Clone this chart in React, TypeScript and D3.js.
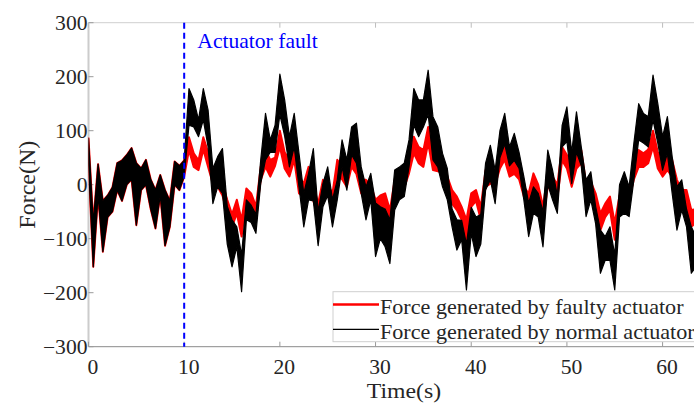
import React from "react";
import * as d3 from "d3";

// the forces are very noisy, so each one is read as a band (low / high edge)
const bandStep = 0.5;
const faultTime = 10;

const xTicks = [0, 10, 20, 30, 40, 50, 60];
const yTicks = [-300, -200, -100, 0, 100, 200, 300];
const legendLabels = [
  "Force generated by faulty actuator",
  "Force generated by normal actuator",
];

// normal actuator (N), band edges every 0.5 s from t = 0, one row = 4 s
const normalLow = [
  40, -152, -20, -124, -60, -50, -10, -30,
  0, 10, -75, -10, 0, -45, -81, -20,
  -113, -78, 0, -10, 15, 110, 107, 89,
  120, 70, -35, -4, -16, -110, -152, -115,
  -198, -65, -70, -90, 2, 46, 60, 60,
  130, 90, 33, 70, -4, -78, -28, -30,
  -113, -41, -20, -78, -28, 33, -10, 55,
  40, -16, -65, -28, -133, -100, -115, -146,
  -47, -28, -22, 33, 110, 89, 107, 130,
  46, 33, -4, -28, -78, -121, -102, -195,
  -90, -133, -110, -10, 9, -35, 50, 75,
  35, 45, 30, -28, -96, -53, -60, -115,
  0, -28, -53, 70, 80, 2, 60, 35,
  -59, -28, -72, -164, -140, -140, -195, -60,
  -53, -59, 9, 83, 77, 70, 120, 77,
  27, 58, -16, -84, -47, -78, -164, -152,
];
const normalHigh = [
  86, -70, 38, -30, -20, -5, 40, 45,
  55, 68, 40, 30, 46, 10, -10, 18,
  -10, -30, 43, 35, 45, 178, 157, 120,
  178, 138, 30, 52, 67, -40, -65, -78,
  -130, -28, -38, -55, 46, 132, 83, 110,
  205, 157, 89, 132, 58, -16, 21, 67,
  -50, 2, 33, -28, 9, 83, 46, 107,
  114, 33, -4, 21, -34, -41, -45, -65,
  27, 33, 40, 83, 178, 157, 157, 212,
  126, 107, 58, 30, -45, -65, -66, -110,
  -42, -60, -55, 40, 73, 27, 100, 132,
  70, 95, 60, 15, -34, -4, -16, -50,
  64, 27, -20, 110, 144, 60, 135, 70,
  9, 24, -40, -84, -96, -78, -130, 0,
  24, -4, 77, 150, 132, 126, 203, 150,
  89, 126, 52, -4, 9, -45, -78, -96,
];

// faulty actuator (N), band edges every 0.5 s from the fault (t = 10 s)
const faultyLowAfter = [
  15, 64, 33, 27, 65, 33, 2, -4,
  -20, -53, -78, -53, -96, -28, -35, -59,
  9, 33, 15, 35, 70, 30, 15, 46,
  -16, -22, 15, -30, -59, -16, -20, -40,
  21, 10, -4, 33, 20, -16, -10, -20,
  -59, -45, -40, -71, -16, -16, -5, 21,
  58, 40, 33, 77, 27, 25, 21, -16,
  -35, -47, -65, -109, -41, -30, -65, -4,
  2, 0, 30, 46, 15, 20, 10, -22,
  -41, -4, -25, -65, -4, -10, -25, 45,
  30, -4, 30, 40, -16, -20, -35, -84,
  -60, -47, -102, -50, -22, -28, 10, 33,
  33, 40, 70, 30, 15, 27, 15, -20,
  -47, -40, -78, -70,
];
const faultyHighAfter = [
  45, 88, 58, 45, 88, 60, 25, 9,
  2, -28, -55, -28, -65, -7, -16, -40,
  33, 64, 46, 50, 100, 60, 46, 70,
  15, 2, 33, 0, -35, 9, 0, -16,
  46, 35, 21, 58, 45, 9, 9, 0,
  -28, -20, -16, -47, 9, 15, 20, 46,
  89, 70, 64, 107, 64, 55, 52, 15,
  -10, -22, -41, -65, -16, -10, -41, 27,
  27, 25, 55, 70, 40, 46, 35, -4,
  -16, 21, 0, -40, 21, 15, 0, 70,
  55, 27, 55, 64, 2, 5, -16, -53,
  -35, -22, -71, -20, -4, -10, 35, 64,
  58, 65, 100, 60, 46, 52, 46, 9,
  -10, -10, -47, -45,
];

// before the fault both actuators deliver the same force
const nBefore = faultTime / bandStep;
const faultyLow = normalLow.slice(0, nBefore).concat(faultyLowAfter);
const faultyHigh = normalHigh.slice(0, nBefore).concat(faultyHighAfter);

const width = 694;
const height = 405;
const left = 88.5;
const top = 22.7;
const bottom = 346.7;
const font = "'Liberation Serif', 'Times New Roman', serif";

// the picture is a little wider than tall, so text is stretched too
const T = ({ x, y, anchor = "start", size = 20, fill = "#262626", children }) => (
  <text
    transform={`translate(${x},${y}) scale(1.08,1)`}
    textAnchor={anchor}
    fontSize={size}
    fontFamily={font}
    fill={fill}
  >
    {children}
  </text>
);

const Band = ({ low, high, x, y, color, edge }) => {
  const area = d3
    .area<number>()
    .x((d, i) => x(i * bandStep))
    .y0(d => y(d))
    .y1((d, i) => y(high[i]));
  return <path d={area(low)} fill={color} stroke={color} strokeWidth={edge} strokeLinejoin="round" />;
};

const App = () => {
  const x = d3.scaleLinear().domain([0, 66]).range([left, 720]);
  const y = d3.scaleLinear().domain([-300, 300]).range([bottom, top]);

  return (
    <svg
      width={width}
      height={height}
      style={{ position: "absolute", left: 0, top: 0, background: "#fff" }}
    >
      <defs>
        <clipPath id="plot">
          <rect x={left} y={top} width={720 - left} height={bottom - top} />
        </clipPath>
      </defs>

      {/* frame */}
      <line x1={left} x2={width} y1={top} y2={top} stroke="#cfcfcf" strokeWidth={1} />
      <line x1={left} x2={width} y1={bottom} y2={bottom} stroke="#8a8a8a" strokeWidth={1} />
      <line x1={left} x2={left} y1={top} y2={bottom} stroke="#cccccc" strokeWidth={2} />

      {xTicks.map(t => (
        <g key={t}>
          <line x1={x(t)} x2={x(t)} y1={bottom} y2={bottom - 5} stroke="#9a9a9a" />
          <line x1={x(t)} x2={x(t)} y1={top} y2={top + 5} stroke="#bdbdbd" />
          <T x={x(t) + 4.5} y={374.3} anchor="middle">{t}</T>
        </g>
      ))}
      {yTicks.map(v => (
        <g key={v}>
          <line x1={left} x2={left + 5} y1={y(v)} y2={y(v)} stroke="#9a9a9a" />
          <T x={87.5} y={y(v) + 7.3} anchor="end">
            {v < 0 ? `\u2212${-v}` : v}
          </T>
        </g>
      ))}

      {/* data */}
      <g clipPath="url(#plot)">
        <Band low={faultyLow} high={faultyHigh} x={x} y={y} color="#ff0000" edge={2} />
        <Band low={normalLow} high={normalHigh} x={x} y={y} color="#000000" edge={1.2} />
      </g>

      {/* fault marker */}
      <line
        x1={x(faultTime)}
        x2={x(faultTime)}
        y1={top}
        y2={bottom}
        stroke="#0000ff"
        strokeWidth={2}
        strokeDasharray="6,4"
      />
      <T x={197.3} y={48.3} fill="#0000ff">Actuator fault</T>

      {/* legend */}
      <rect x={333} y={291.7} width={380} height={50} fill="#fff" stroke="#cfcfcf" />
      <line x1={333} x2={379} y1={304.5} y2={304.5} stroke="#ff0000" strokeWidth={2.6} />
      <line x1={333} x2={379} y1={329.3} y2={329.3} stroke="#000" strokeWidth={1.2} />
      <T x={380} y={314.3} size={20.5}>{legendLabels[0]}</T>
      <T x={380} y={339} size={20.5}>{legendLabels[1]}</T>

      {/* axis titles */}
      <T x={404} y={398.3} anchor="middle" size={22}>Time(s)</T>
      <text
        transform={`translate(35,${y(0)}) rotate(-90)`}
        textAnchor="middle"
        fontSize={24}
        fontFamily={font}
        fill="#262626"
      >
        Force(N)
      </text>
    </svg>
  );
};

export default App;
